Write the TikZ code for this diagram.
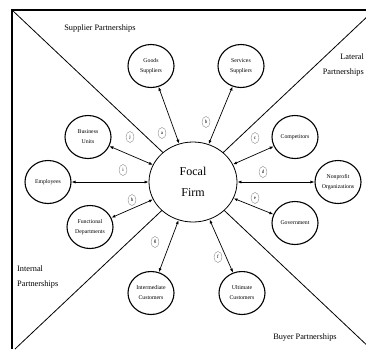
\documentclass[tikz,border=0pt]{standalone}
\usepackage{fontspec}
\setmainfont{Liberation Serif}
\usetikzlibrary{shapes.geometric,arrows.meta}
\begin{document}
\begin{tikzpicture}[x=1pt,y=-1pt,
  sat/.style={draw, ellipse, line width=1.1pt, minimum width=46pt, minimum height=43pt,
    inner sep=0pt, align=center, fill=white, font=\fontsize{5.8}{10}\selectfont},
  focalbox/.style={draw, ellipse, line width=0.8pt, minimum width=88pt, minimum height=80pt,
    inner sep=0pt, fill=white, align=center, font=\fontsize{12}{21}\selectfont},
  rel/.style={{Latex[length=4pt,width=3pt]}-{Latex[length=4pt,width=3pt]}, line width=0.7pt},
  lab/.style={draw=gray, ellipse, line width=0.35pt, minimum width=8pt, minimum height=11pt,
    inner sep=0pt, fill=white, font=\fontsize{5}{5}\selectfont},
  part/.style={font=\fontsize{8.3}{14.5}\selectfont, inner sep=0pt}]
\useasboundingbox (0,0) rectangle (366,349);
% frame and diagonals
\draw[line width=1.6pt] (12,349) -- (12,10) -- (366,10);
\draw[line width=0.8pt] (12,10) -- (372,350);
\draw[line width=0.8pt] (15,349) -- (370,14);
% partnership captions
\node[part, align=center] (tsup) at (100,28) {Supplier Partnerships};
\node[part, align=right, anchor=east] (tlat) at (364,65) {Lateral\\Partnerships};
\node[part, align=left, anchor=west] (tint) at (17,277) {Internal\\Partnerships};
\node[part, align=center] (tbuy) at (305,338) {Buyer Partnerships};
% nodes
\node[focalbox] (focal) at (193,182) {Focal\\Firm};
\node[sat] (goods) at (151,66) {Goods\\Suppliers};
\node[sat] (serv) at (241,66) {Services\\Suppliers};
\node[sat] (comp) at (295,137) {Competitors};
\node[sat] (nonp) at (338,182) {Nonprofit\\Organizations};
\node[sat] (gov) at (295,223) {Government};
\node[sat] (ult) at (242,293) {Ultimate\\Customers};
\node[sat] (inter) at (151,293) {Intermediate\\Customers};
\node[sat] (func) at (90,227) {Functional\\Departments};
\node[sat] (empl) at (48,182) {Employees};
\node[sat] (bus) at (88,137) {Business\\Units};
% connectors
\draw[rel] (focal) -- (goods);
\draw[rel] (focal) -- (serv);
\draw[rel] (focal) -- (comp);
\draw[rel] (focal) -- (nonp);
\draw[rel] (focal) -- (gov);
\draw[rel] (focal) -- (ult);
\draw[rel] (focal) -- (inter);
\draw[rel] (focal) -- (func);
\draw[rel] (focal) -- (empl);
\draw[rel] (focal) -- (bus);
% relationship labels
\node[lab] (la) at (162,133) {a};
\node[lab] (lb) at (206,122) {b};
\node[lab] (lc) at (255,138) {c};
\node[lab] (ld) at (263,172) {d};
\node[lab] (le) at (255,198) {e};
\node[lab] (lf) at (218,257) {f};
\node[lab] (lg) at (155,242) {g};
\node[lab] (lh) at (132,200) {h};
\node[lab] (li) at (123,170) {i};
\node[lab] (lj) at (130,137) {j};
\end{tikzpicture}
\end{document}
